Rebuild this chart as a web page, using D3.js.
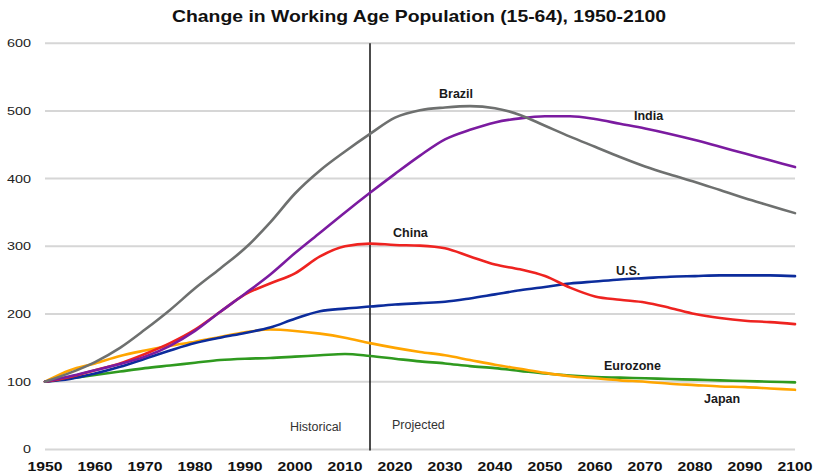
<!DOCTYPE html>
<html>
<head>
<meta charset="utf-8">
<script src="https://cdn.jsdelivr.net/npm/d3@7"></script>
<style>
  html, body { margin: 0; padding: 0; background: #fff; }
  svg { display: block; font-family: "Liberation Sans", Arial, Helvetica, sans-serif; }
</style>
</head>
<body>
<svg id="chart" width="814" height="474"></svg>
<script>
const years = d3.range(1950, 2101, 5);
const brazil   = [100,113,129,150,177,206,238,267,297,335,378,412,440,466,490,501,505,507,504,494,478,462,447,432,418,406,395,383,371,360,349];
const india    = [100,108,117,126,137,153,175,203,230,258,290,320,350,379,407,434,458,472,483,489,492,492,488,481,474,466,457,447,437,427,417];
const china    = [100,107,117,127,141,157,177,203,229,245,260,285,300,304,302,301,297,285,273,266,256,239,226,221,217,209,200,194,190,188,185];
const us       = [100,104,112,122,134,146,157,165,172,180,193,204,208,211,214,216,218,223,229,235,240,245,248,251,253,255,256,257,257,257,256];
const japan    = [100,117,127,138,146,153,159,166,173,177,175,171,165,157,150,144,139,132,125,119,113,108,105,102,100,97,95,93,92,90,88];
const eurozone = [100,105,110,115,120,124,128,132,134,135,137,139,141,138,134,130,127,123,120,116,112,109,107,106,105,104,103,102,101,100,99];

const seriesNames = ["Eurozone","Japan","U.S.","China","India","Brazil"];
const seriesValues = [eurozone, japan, us, china, india, brazil];
const seriesColors = ["#2f9a1f","#ffa500","#0c2c9c","#ee2320","#7b1ba0","#6e706f"];

const yTicks = [0,100,200,300,400,500,600];
const xTicks = d3.range(1950, 2101, 10);
const divideYear = 2015;
const title = "Change in Working Age Population (15-64), 1950-2100";

// label positions (data coords: year, value) for series labels
const labelSpots = [
  {name:"Brazil",   year: 2028.8, val: 519},
  {name:"India",    year: 2067.8, val: 486},
  {name:"China",    year: 2019.6, val: 314},
  {name:"U.S.",     year: 2064.2, val: 258},
  {name:"Eurozone", year: 2061.8, val: 118},
  {name:"Japan",    year: 2081.8, val: 68}
];

const svg = d3.select("#chart");
const x = d3.scaleLinear().domain([1950, 2100]).range([45, 795]);
const y = d3.scaleLinear().domain([0, 600]).range([449.4, 43.2]);

// gridlines
svg.append("g").selectAll("line").data(yTicks).join("line")
  .attr("x1", x(1950)).attr("x2", x(2100))
  .attr("y1", d => y(d)).attr("y2", d => y(d))
  .attr("stroke", "#d6d6d6").attr("stroke-width", 2);

// y tick labels
svg.append("g").selectAll("text").data(yTicks).join("text")
  .attr("x", 31).attr("y", d => y(d)).attr("dy", "0.36em")
  .attr("text-anchor", "end")
  .attr("font-size", 11).attr("fill", "#222")
  .attr("textLength", d => String(d).length * 8).attr("lengthAdjust", "spacingAndGlyphs")
  .text(d => d);

// x tick labels
svg.append("g").selectAll("text").data(xTicks).join("text")
  .attr("x", d => x(d) - 17.5).attr("y", 471)
  .attr("font-size", 12.5).attr("font-weight", "bold").attr("fill", "#111")
  .attr("textLength", 35).attr("lengthAdjust", "spacingAndGlyphs")
  .text(d => d);

// divider
svg.append("line")
  .attr("x1", x(divideYear)).attr("x2", x(divideYear))
  .attr("y1", y(600)).attr("y2", y(0) + 1)
  .attr("stroke", "#111").attr("stroke-width", 1.5);

// lines
const line = d3.line().x((d, i) => x(years[i])).y(d => y(d)).curve(d3.curveMonotoneX);
svg.append("g").selectAll("path").data(seriesValues).join("path")
  .attr("d", d => line(d))
  .attr("fill", "none")
  .attr("stroke", (d, i) => seriesColors[i])
  .attr("stroke-width", 2.6)
  .attr("stroke-linejoin", "round").attr("stroke-linecap", "round");

// series labels
svg.append("g").selectAll("text").data(labelSpots).join("text")
  .attr("x", d => x(d.year)).attr("y", d => y(d.val))
  .attr("font-size", 12.5).attr("font-weight", "bold").attr("fill", "#1a1a1a")
  .text(d => d.name);

// Historical / Projected
svg.append("text").attr("x", 290).attr("y", 430.5)
  .attr("font-size", 12.5).attr("fill", "#333").text("Historical");
svg.append("text").attr("x", 392).attr("y", 428.5)
  .attr("font-size", 12.5).attr("fill", "#333").text("Projected");

// title
svg.append("text").attr("x", 172).attr("y", 21.5)
  .attr("font-size", 17).attr("font-weight", "bold").attr("fill", "#111")
  .attr("textLength", 494).attr("lengthAdjust", "spacingAndGlyphs")
  .text(title);
</script>
</body>
</html>
